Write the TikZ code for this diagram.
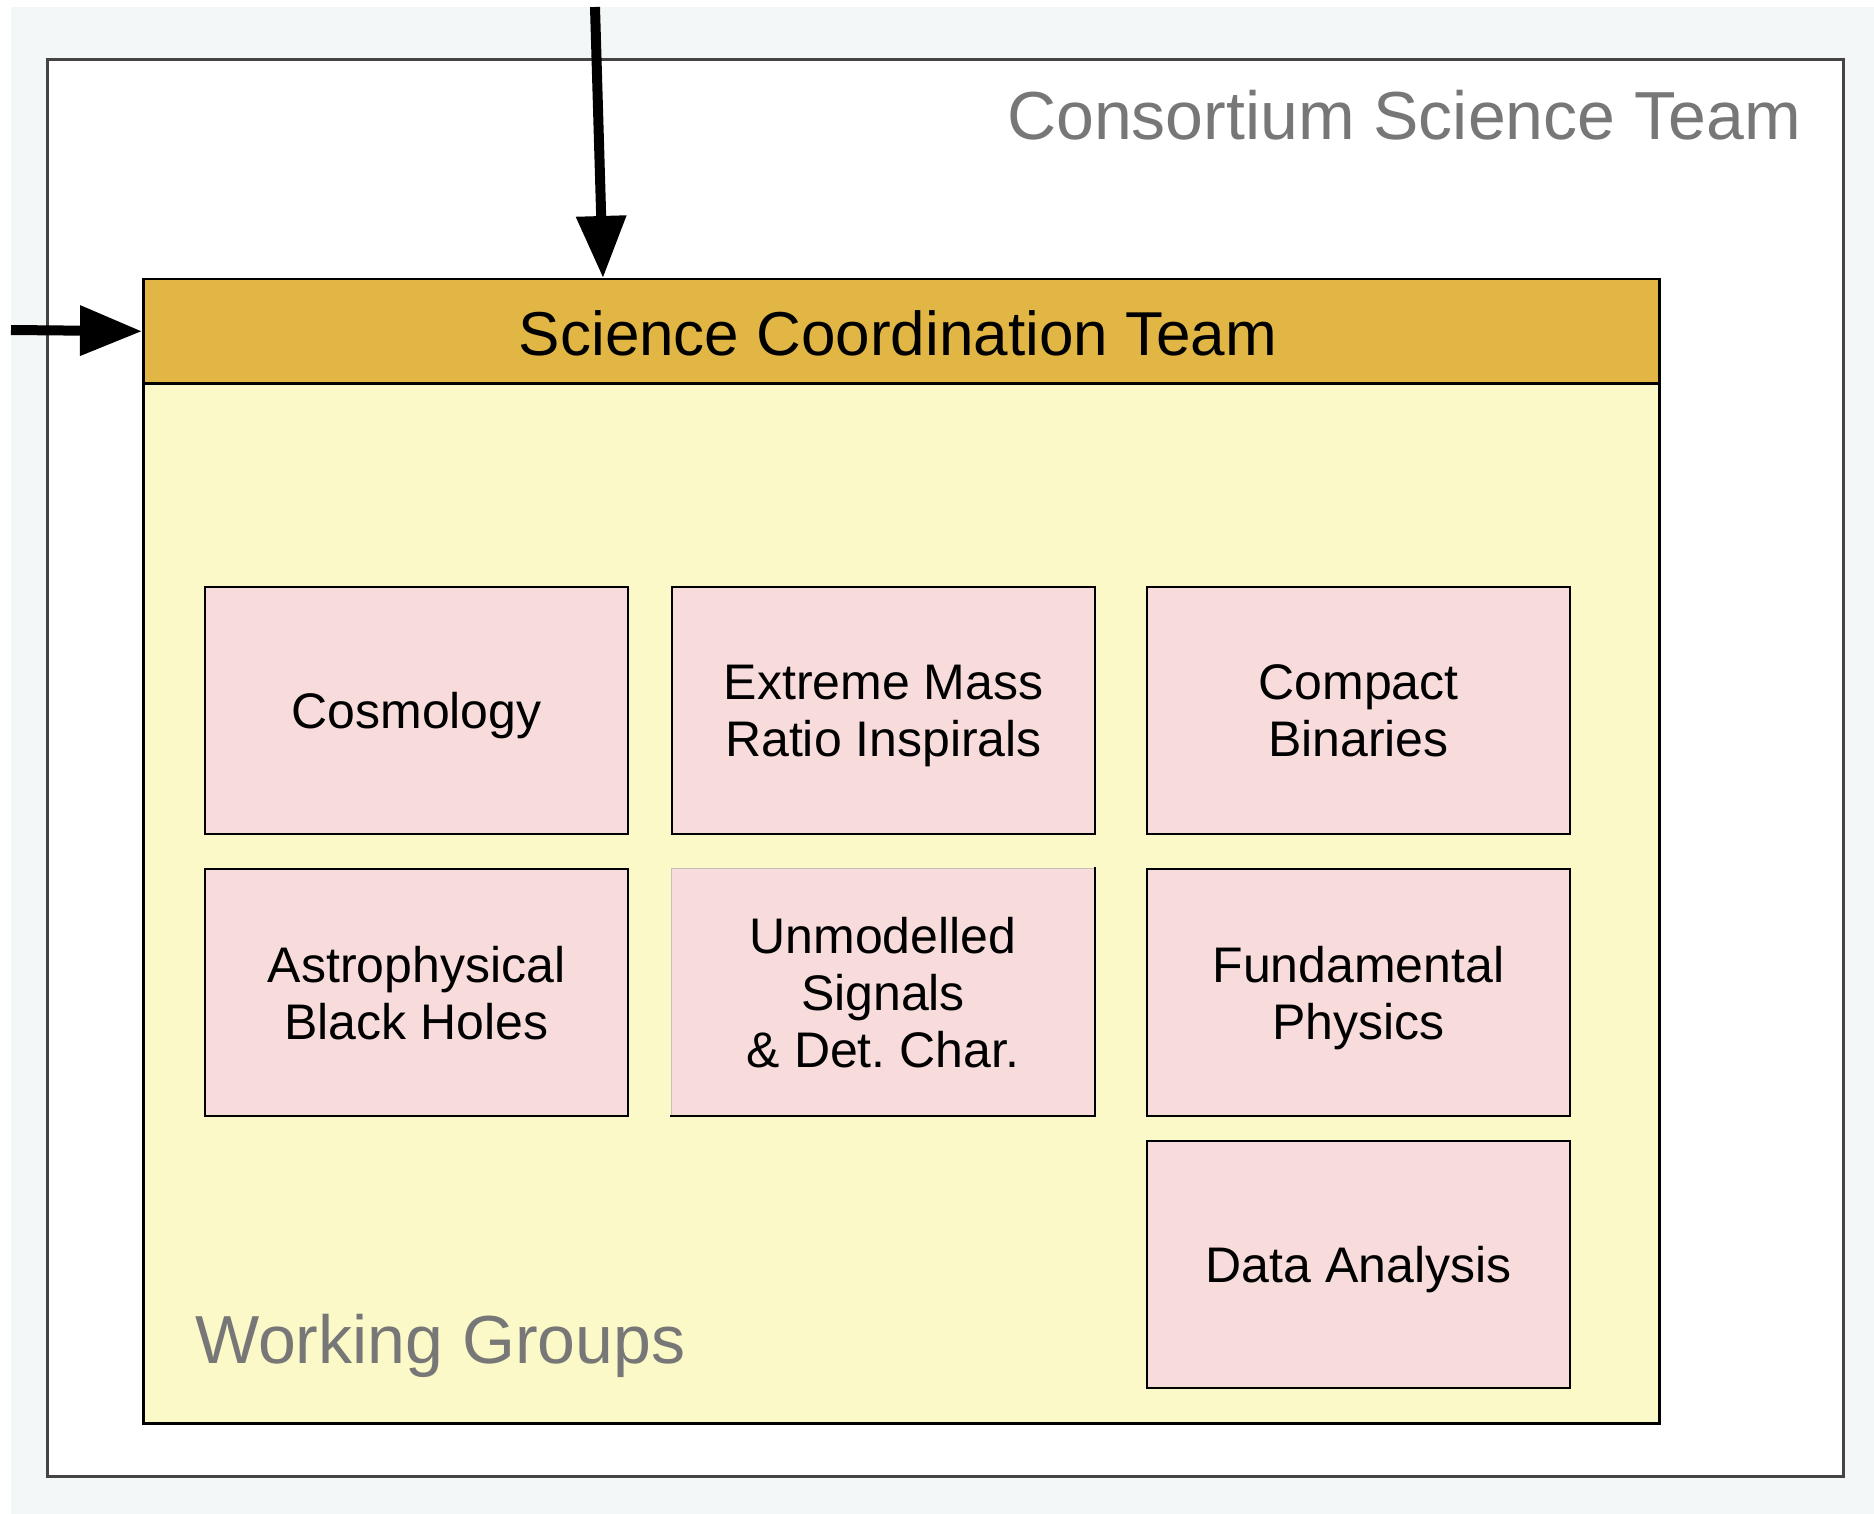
\documentclass[tikz,border=0pt]{standalone}
\usepackage{fontspec}
\setmainfont{Liberation Sans}
\usetikzlibrary{arrows.meta}
\definecolor{bggray}{HTML}{F4F7F8}
\definecolor{hdrfill}{HTML}{E1B644}
\definecolor{wgfill}{HTML}{FBF9C8}
\definecolor{pinkfill}{HTML}{F8DCDC}
\definecolor{labelgray}{HTML}{777777}
\definecolor{outerline}{HTML}{444444}
\definecolor{faintedge}{HTML}{C8C0B8}
\frenchspacing
\begin{document}
\begin{tikzpicture}[x=1pt,y=-1pt,
  groupbox/.style={draw=black, line width=2pt, fill=pinkfill, minimum width=423pt, minimum height=247pt,
    inner sep=0pt, align=center, anchor=north west, text depth=0pt, font=\fontsize{50}{57}\selectfont},
  bigarrow/.style={line width=10pt, -{Triangle[length=62pt,width=48pt]}},
  graylabel/.style={text=labelgray, inner sep=0pt, font=\fontsize{68}{80}\selectfont}]
\useasboundingbox (0,0) rectangle (1874,1514);
\fill[white] (0,0) rectangle (1874,1514);
\fill[bggray] (11,7) rectangle (1874,1514);
% outer box
\node[draw=outerline, line width=3pt, fill=white, minimum width=1796pt, minimum height=1417pt,
  inner sep=0pt, anchor=north west] (cst) at (46,58) {};
\node[graylabel, anchor=base east] (cstlabel) at (1801,140) {Consortium Science Team};
% working group container
\node[draw=black, line width=2.5pt, fill=wgfill, minimum width=1516pt, minimum height=1144pt,
  inner sep=0pt, anchor=north west] (wg) at (142,278) {};
\node[draw=black, line width=2.5pt, fill=hdrfill, minimum width=1516pt, minimum height=104pt,
  inner sep=0pt, anchor=north west] (hdr) at (142,278) {};
\node[inner sep=0pt, anchor=base, font=\fontsize{62}{70}\selectfont] (hdrtext) at (898,355) {Science Coordination Team};
\node[graylabel, anchor=base west] (wglabel) at (195,1363) {Working Groups};
% groups
\node[groupbox] (cosmo) at (204,586) {Cosmology};
\node[groupbox] (emri) at (671,586) {Extreme Mass\\Ratio Inspirals};
\node[groupbox] (cbin) at (1146,586) {Compact\\Binaries};
\node[groupbox] (abh) at (204,868) {Astrophysical\\Black Holes};
\node[groupbox, draw=faintedge, line width=1pt] (unmod) at (671,868) {Unmodelled\\Signals\\\& Det. Char.};
\draw[black, line width=2.5pt, line cap=rect] (unmod.north east) -- (unmod.south east) -- (unmod.south west);
\node[groupbox] (fund) at (1146,868) {Fundamental\\Physics};
\node[groupbox] (data) at (1146,1140) {Data Analysis};
% arrows
\coordinate (topin) at (595,7);
\coordinate (leftin) at (11,330);
\draw[bigarrow] (topin) -- ([xshift=461pt]hdr.north west);
\draw[bigarrow] (leftin) -- (hdr.west);
\end{tikzpicture}
\end{document}
